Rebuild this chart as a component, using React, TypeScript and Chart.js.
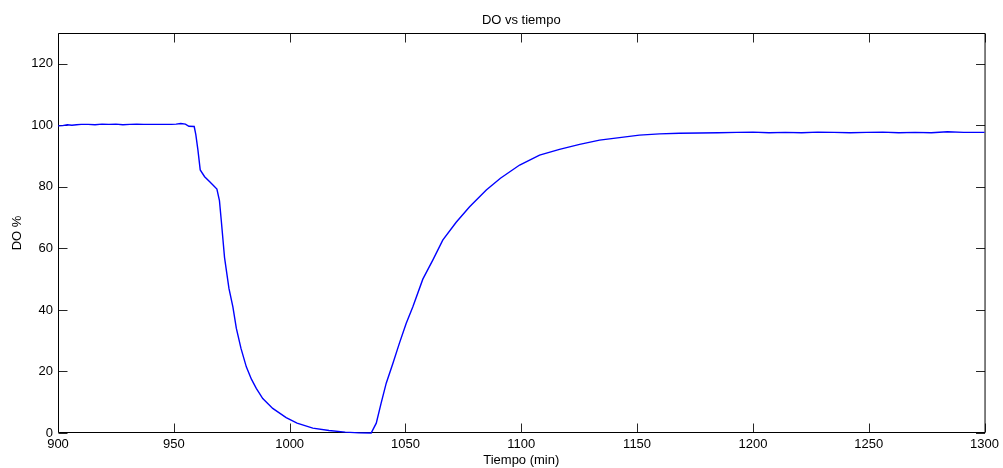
import React, { useEffect, useRef } from "react";
import { Chart, registerables } from "chart.js";

Chart.register(...registerables);

const times = [
  900, 902, 904, 906, 908, 910, 913, 916, 919, 922, 925, 928, 931, 934, 937, 940, 943, 946, 949, 951, 953, 955,
  956.5, 958.8, 959.5, 960.4, 961.4, 963.3, 965.4, 967, 968.6, 969.7, 970.5, 971.9, 973.8, 975.5, 977, 979,
  981.3, 983.5, 985.6, 988.4, 992.7, 998.5, 1003.2, 1010, 1017, 1024, 1030, 1035.2, 1037.4, 1039.5, 1041.7,
  1044.6, 1047.4, 1050.3, 1053.2, 1057.5, 1061.8, 1066.1, 1071.9, 1077.7, 1084.9, 1091, 1099.3, 1107.9, 1116.5,
  1125.2, 1133.8, 1142.4, 1151, 1159.7, 1168.3, 1177, 1185, 1193, 1200, 1207, 1214, 1221, 1228, 1235, 1242,
  1249, 1256, 1263, 1270, 1277, 1284, 1291, 1300,
];

const doValues = [
  99.8, 99.9, 100.2, 100.0, 100.2, 100.3, 100.3, 100.2, 100.4, 100.3, 100.4, 100.2, 100.3, 100.4, 100.3, 100.3,
  100.3, 100.3, 100.3, 100.4, 100.6, 100.4, 99.7, 99.6, 97, 92, 85.5, 83.3, 81.7, 80.5, 79.3, 75.5, 69, 57, 47,
  41, 34, 27.5, 21.5, 17.5, 14.5, 11.2, 8.0, 5.0, 3.2, 1.6, 0.8, 0.3, 0.05, 0, 3.2, 9.7, 16.2, 22.7, 29.2, 35.6,
  41, 50, 56.2, 62.7, 68.5, 73.5, 79, 82.8, 87.1, 90.3, 92.2, 93.8, 95.2, 96, 96.8, 97.2, 97.4, 97.5, 97.6, 97.7,
  97.8, 97.6, 97.7, 97.6, 97.8, 97.7, 97.6, 97.7, 97.8, 97.6, 97.7, 97.6, 97.9, 97.7, 97.7,
];

const xTicks = [900, 950, 1000, 1050, 1100, 1150, 1200, 1250, 1300];
const yTicks = [0, 20, 40, 60, 80, 100, 120];

const titleText = "DO vs tiempo";
const xLabel = "Tiempo (min)";
const yLabel = "DO %";

const FONT = '"Liberation Sans", Arial, Helvetica, sans-serif';

const framePlugin = {
  id: "matlabFrame",
  beforeDatasetsDraw(chart: any) {
    const { ctx, chartArea: a, scales } = chart;
    const L = a.left + 0.5;
    const R = a.right + 0.5;
    const T = a.top + 0.5;
    const B = a.bottom - 0.5;
    const tl = 9;
    ctx.save();
    ctx.lineWidth = 1;
    ctx.strokeStyle = "#262626";
    ctx.beginPath();
    xTicks.forEach((v) => {
      const px = Math.round(scales.x.getPixelForValue(v)) + 0.5;
      ctx.moveTo(px, B);
      ctx.lineTo(px, B - tl);
      ctx.moveTo(px, T);
      ctx.lineTo(px, T + tl);
    });
    yTicks.forEach((v) => {
      const py = Math.round(scales.y.getPixelForValue(v)) + 0.5;
      ctx.moveTo(L, py);
      ctx.lineTo(L + tl, py);
      ctx.moveTo(R, py);
      ctx.lineTo(R - tl, py);
    });
    ctx.stroke();
    ctx.strokeStyle = "#000000";
    ctx.beginPath();
    ctx.rect(L, T, R - L, B - T);
    ctx.stroke();
    ctx.fillStyle = "#000000";
    ctx.font = `13px ${FONT}`;
    ctx.textAlign = "center";
    ctx.textBaseline = "middle";
    ctx.fillText(titleText, (a.left + a.right) / 2, 20);
    ctx.restore();
  },
};

export default function App() {
  const ref = useRef<HTMLCanvasElement | null>(null);

  useEffect(() => {
    if (!ref.current) return;
    const points = times.map((t, i) => ({ x: t, y: doValues[i] }));
    const chart = new Chart(ref.current, {
      type: "line",
      data: {
        datasets: [
          {
            data: points,
            borderColor: "#0000ff",
            borderWidth: 1.4,
            pointRadius: 0,
            tension: 0,
            fill: false,
            clip: false as any,
          },
        ],
      },
      options: {
        responsive: false,
        animation: false,
        devicePixelRatio: 1,
        layout: { padding: { top: 33, right: 18, left: 0, bottom: 0 } },
        plugins: {
          legend: { display: false },
          title: { display: false },
          tooltip: { enabled: false },
        },
        scales: {
          x: {
            type: "linear",
            min: 900,
            max: 1300,
            afterBuildTicks: (s: any) => {
              s.ticks = xTicks.map((v) => ({ value: v }));
            },
            afterFit: (s: any) => {
              s.height = 35;
            },
            grid: { display: false, drawTicks: false },
            border: { display: false },
            ticks: {
              font: { family: FONT, size: 13 },
              color: "#000",
              padding: 4,
              maxRotation: 0,
              autoSkip: false,
              callback: (v: any) => String(v),
            },
            title: {
              display: true,
              text: xLabel,
              font: { family: FONT, size: 13 },
              color: "#000",
              padding: { top: 0, bottom: 0 },
            },
          },
          y: {
            type: "linear",
            min: 0,
            max: 130,
            afterBuildTicks: (s: any) => {
              s.ticks = yTicks.map((v) => ({ value: v }));
            },
            afterFit: (s: any) => {
              s.width = 58;
            },
            grid: { display: false, drawTicks: false },
            border: { display: false },
            ticks: {
              font: { family: FONT, size: 13 },
              color: "#000",
              padding: 5,
              autoSkip: false,
              callback: (v: any) => String(v),
            },
            title: {
              display: true,
              text: yLabel,
              font: { family: FONT, size: 13 },
              color: "#000",
              padding: { top: 10, bottom: 0 },
            },
          },
        },
      },
      plugins: [framePlugin],
    });
    return () => chart.destroy();
  }, []);

  return (
    <div style={{ position: "fixed", left: 0, top: 0, width: 1003, height: 468, background: "#fff" }}>
      <canvas ref={ref} width={1003} height={468} style={{ display: "block", width: 1003, height: 468 }} />
    </div>
  );
}
